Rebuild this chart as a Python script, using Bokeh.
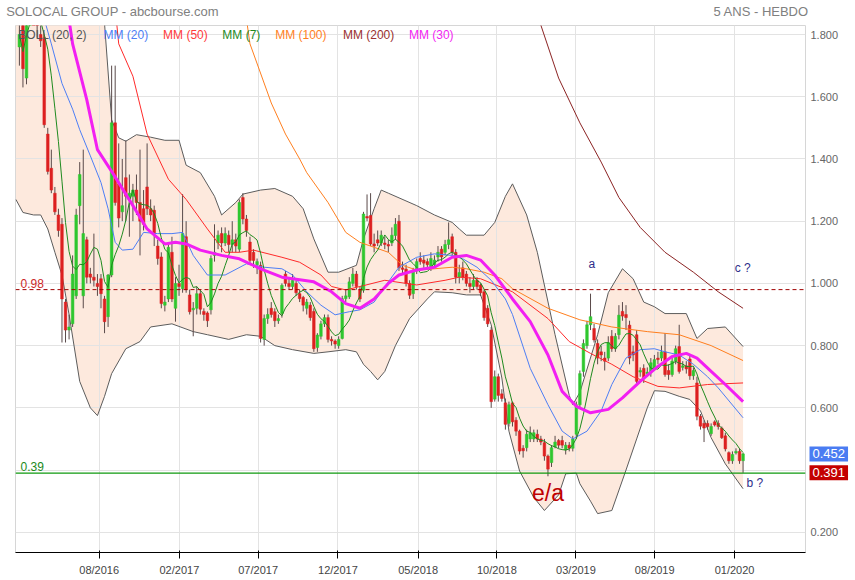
import numpy as np
import pandas as pd
from bokeh.plotting import figure
from bokeh.models import (Range1d, FixedTicker, Label, Span, NumeralTickFormatter, LinearAxis,
                          GlobalInlineStyleSheet)
from bokeh.embed import file_html
from bokeh.resources import INLINE

# ---------------- data (weekly candles, index = week number) ----------------
opens = [1.76,1.88,1.66,1.92,1.96,1.92,1.80,1.79,1.48,1.37,1.29,1.22,1.19,0.94,0.85,0.87,0.96,1.25,0.96,1.14,
         1.03,1.02,1.00,1.015,0.95,0.893,1.027,1.516,1.32,1.23,1.34,1.27,1.28,1.30,1.26,1.24,1.31,1.24,1.235,1.12,
         1.085,0.93,0.95,1.10,0.92,1.00,0.983,1.15,0.963,0.915,0.92,0.967,0.91,0.905,0.915,1.09,1.13,1.16,1.13,1.155,
         1.125,1.14,1.11,1.276,1.207,1.133,1.10,1.06,1.058,0.82,0.887,0.92,0.909,0.88,0.903,1.03,1.00,0.99,1.00,0.967,
         0.955,0.92,0.93,0.91,0.794,0.83,0.87,0.89,0.82,0.815,0.80,0.823,0.951,0.957,1.00,1.03,0.98,0.978,1.215,1.218,
         1.127,1.14,1.13,1.13,1.125,1.13,1.154,1.20,1.05,1.046,1.00,0.967,1.04,1.08,1.075,1.07,1.05,1.06,1.085,1.11,
         1.10,1.125,1.15,1.10,1.02,1.05,1.03,1.00,0.99,1.01,0.995,0.973,0.92,0.85,0.628,0.70,0.645,0.616,0.55,0.616,
         0.56,0.525,0.47,0.472,0.50,0.50,0.515,0.50,0.488,0.445,0.424,0.475,0.495,0.495,0.465,0.48,0.47,0.515,0.61,0.717,
         0.80,0.867,0.855,0.807,0.78,0.76,0.76,0.83,0.79,0.835,0.91,0.90,0.866,0.78,0.835,0.715,0.727,0.71,0.715,0.727,
         0.76,0.76,0.78,0.72,0.707,0.75,0.797,0.73,0.735,0.757,0.703,0.68,0.573,0.55,0.55,0.517,0.555,0.55,0.535,0.51,
         0.456,0.43,0.455,0.46,0.43]
highs = [1.86,1.92,1.95,2.00,2.02,1.95,1.83,1.80,1.50,1.43,1.31,1.24,1.21,0.95,0.90,1.09,1.24,1.39,1.43,1.15,
         1.05,1.16,1.03,1.03,0.96,1.03,1.70,1.70,1.45,1.40,1.46,1.35,1.32,1.35,1.43,1.30,1.45,1.27,1.25,1.14,
         1.10,0.96,1.13,1.15,1.02,1.06,1.287,1.20,0.98,0.94,0.99,0.98,0.92,0.91,1.09,1.19,1.17,1.18,1.18,1.17,
         1.20,1.16,1.27,1.29,1.22,1.15,1.11,1.08,1.07,0.90,0.92,0.94,0.92,0.90,1.00,1.04,1.02,1.03,1.01,0.98,
         0.96,0.95,0.94,0.92,0.84,0.88,0.90,0.90,0.83,0.82,0.83,0.96,0.98,1.02,1.05,1.04,0.99,1.23,1.286,1.29,
         1.16,1.17,1.17,1.15,1.14,1.18,1.21,1.22,1.07,1.06,1.01,1.05,1.08,1.10,1.09,1.08,1.10,1.09,1.12,1.12,
         1.14,1.196,1.16,1.11,1.06,1.07,1.04,1.02,1.03,1.02,1.00,0.98,0.93,0.86,0.72,0.71,0.66,0.63,0.62,0.62,
         0.57,0.53,0.48,0.53,0.54,0.53,0.53,0.51,0.50,0.45,0.48,0.51,0.50,0.51,0.49,0.49,0.51,0.62,0.72,0.82,
         0.88,0.967,0.87,0.82,0.80,0.78,0.83,0.85,0.84,0.93,0.94,0.93,0.88,0.80,0.85,0.73,0.74,0.73,0.76,0.77,
         0.78,0.80,0.84,0.74,0.76,0.80,0.867,0.75,0.75,0.77,0.73,0.70,0.58,0.56,0.56,0.55,0.56,0.56,0.54,0.52,
         0.46,0.46,0.47,0.47,0.455]
lows = [1.70,1.63,1.64,1.86,1.88,1.79,1.76,1.50,1.35,1.29,1.22,1.15,0.81,0.81,0.82,0.86,0.95,1.19,0.92,1.00,
        1.00,0.99,0.96,0.92,0.84,0.86,1.02,1.25,1.18,1.20,1.20,1.15,1.20,1.22,1.09,1.17,1.22,1.20,1.12,1.06,
        0.92,0.91,0.94,0.94,0.877,0.96,0.97,0.97,0.90,0.83,0.90,0.90,0.88,0.86,0.90,1.07,1.11,1.10,1.12,1.10,
        1.10,1.10,1.10,1.19,1.15,1.06,1.05,1.03,0.81,0.80,0.87,0.89,0.86,0.87,0.89,0.99,0.98,0.98,0.96,0.94,
        0.91,0.90,0.88,0.78,0.78,0.82,0.86,0.81,0.80,0.79,0.79,0.82,0.94,0.95,0.99,0.98,0.94,0.97,1.20,1.12,
        1.10,1.12,1.12,1.11,1.10,1.12,1.14,1.04,1.03,0.99,0.95,0.95,1.03,1.06,1.05,1.05,1.04,1.05,1.07,1.07,
        1.09,1.11,1.09,1.00,1.00,1.01,0.99,0.97,0.98,0.98,0.96,0.88,0.86,0.60,0.62,0.62,0.62,0.53,0.54,0.54,
        0.51,0.45,0.44,0.46,0.49,0.49,0.49,0.48,0.43,0.38,0.41,0.47,0.47,0.47,0.45,0.46,0.46,0.50,0.60,0.70,
        0.79,0.85,0.81,0.74,0.75,0.72,0.75,0.78,0.78,0.82,0.88,0.85,0.74,0.75,0.67,0.70,0.68,0.70,0.70,0.72,
        0.74,0.75,0.70,0.69,0.70,0.74,0.71,0.72,0.71,0.69,0.69,0.56,0.53,0.49,0.53,0.51,0.54,0.53,0.50,0.46,
        0.42,0.42,0.45,0.42,0.391]
closes = [1.80,1.69,1.90,1.96,1.92,1.84,1.78,1.51,1.36,1.30,1.23,1.17,0.95,0.85,0.86,1.03,1.22,1.35,1.16,1.02,
          1.02,1.01,0.99,0.967,0.877,1.027,1.516,1.26,1.21,1.25,1.28,1.29,1.30,1.26,1.20,1.19,1.24,1.22,1.16,1.08,
          0.935,0.94,1.116,0.95,1.00,0.99,1.16,0.98,0.909,0.92,0.967,0.917,0.90,0.88,1.08,1.10,1.155,1.13,1.16,1.125,
          1.14,1.12,1.26,1.207,1.17,1.074,1.074,1.07,0.823,0.887,0.90,0.90,0.88,0.887,0.994,1.00,0.99,1.01,0.97,0.951,
          0.93,0.94,0.89,0.79,0.834,0.87,0.89,0.82,0.815,0.805,0.82,0.951,0.96,1.005,1.03,0.99,0.95,1.223,1.21,1.127,
          1.12,1.13,1.155,1.125,1.12,1.155,1.19,1.05,1.045,1.00,0.962,1.042,1.07,1.07,1.065,1.06,1.08,1.075,1.10,1.085,
          1.125,1.14,1.10,1.02,1.035,1.02,1.00,0.99,1.01,0.99,0.97,0.89,0.87,0.62,0.70,0.64,0.63,0.547,0.61,0.555,
          0.525,0.461,0.462,0.515,0.52,0.52,0.50,0.49,0.445,0.403,0.472,0.49,0.48,0.48,0.48,0.47,0.50,0.61,0.71,0.807,
          0.867,0.893,0.818,0.76,0.77,0.75,0.81,0.79,0.83,0.898,0.895,0.89,0.76,0.77,0.685,0.72,0.695,0.715,0.745,0.755,
          0.755,0.78,0.707,0.707,0.75,0.79,0.717,0.735,0.725,0.703,0.72,0.573,0.541,0.535,0.54,0.54,0.545,0.54,0.504,0.468,
          0.43,0.45,0.46,0.43,0.452]

# indicator curves (week index, value)
boll_up_wk = [-1, 12, 22, 24, 26, 28, 30, 33, 37, 41, 45, 47, 51, 55, 57, 61, 63, 68, 72, 77, 80, 83, 87, 90, 95, 97,
              100, 102, 104, 112, 117, 122, 124, 126, 131, 134, 137, 139, 143, 146, 151, 155, 156, 158, 163, 166,
              170, 173, 176, 179, 182, 188, 191, 194, 199, 204]
boll_up = [2.40, 2.40, 2.10, 1.835, 1.526, 1.468, 1.457, 1.478, 1.47, 1.46, 1.46, 1.38, 1.356, 1.28, 1.22, 1.26,
           1.287, 1.30, 1.305, 1.28, 1.24, 1.143, 1.036, 1.036, 1.058, 1.143, 1.24, 1.30, 1.29, 1.25, 1.22, 1.196,
           1.175, 1.155, 1.155, 1.196, 1.28, 1.32, 1.22, 1.10, 0.835, 0.64, 0.61, 0.65, 0.835, 0.97, 1.047, 1.015,
           0.94, 0.925, 0.903, 0.903, 0.823, 0.855, 0.86, 0.797]
boll_lo_wk = [-1, 1, 4, 6, 8, 10, 12, 14, 17, 20, 22, 24, 26, 30, 34, 37, 43, 49, 53, 59, 64, 68, 72, 77, 83, 87, 92,
              95, 97, 99, 101, 103, 106, 110, 115, 117, 122, 126, 130, 133, 136, 138, 141, 145, 148, 152, 154, 157,
              158, 161, 163, 167, 171, 174, 177, 179, 182, 186, 189, 192, 195, 199, 204]
boll_lo = [1.27, 1.228, 1.22, 1.22, 1.175, 1.10, 1.027, 0.90, 0.685, 0.60, 0.575, 0.637, 0.71, 0.79, 0.813, 0.86,
           0.87, 0.845, 0.835, 0.82, 0.835, 0.83, 0.80, 0.787, 0.775, 0.78, 0.787, 0.78, 0.74, 0.717, 0.69, 0.717,
           0.80, 0.887, 0.95, 0.973, 0.97, 0.963, 0.963, 0.867, 0.696, 0.525, 0.397, 0.312, 0.27, 0.32, 0.388, 0.39,
           0.356, 0.30, 0.26, 0.27, 0.40, 0.50, 0.60, 0.655, 0.653, 0.637, 0.627, 0.59, 0.504, 0.42, 0.34]
mm20_wk = [7, 9, 12, 15, 17, 20, 23, 25, 27, 29, 32, 35, 39, 43, 46, 49, 53, 58, 64, 69, 74, 77, 81, 85, 89, 93, 96,
           100, 104, 107, 112, 117, 122, 125, 129, 133, 137, 139, 144, 149, 153, 156, 160, 164, 167, 171, 175, 179,
           182, 186, 190, 194, 197, 204]
mm20 = [1.85, 1.77, 1.643, 1.56, 1.494, 1.41, 1.324, 1.24, 1.132, 1.107, 1.11, 1.164, 1.16, 1.16, 1.164, 1.09, 1.027,
        1.027, 1.063, 1.052, 1.047, 1.027, 0.973, 0.93, 0.899, 0.909, 0.915, 0.94, 1.005, 1.052, 1.084, 1.095, 1.09,
        1.079, 1.052, 1.01, 0.95, 0.90, 0.727, 0.61, 0.525, 0.50, 0.525, 0.59, 0.675, 0.76, 0.787, 0.79, 0.78, 0.77,
        0.74, 0.70, 0.664, 0.568]
mm30_wk = [12, 15, 19, 22, 26, 32, 36, 41, 44, 47, 51, 57, 62, 68, 74, 77, 83, 88, 92, 96, 100, 104, 107, 112, 117,
           122, 126, 130, 134, 139, 144, 149, 153, 157, 161, 166, 170, 175, 180, 184, 188, 191, 195, 199, 204]
mm30 = [2.0, 1.77, 1.59, 1.43, 1.36, 1.25, 1.175, 1.127, 1.132, 1.127, 1.107, 1.09, 1.079, 1.047, 1.02, 1.015, 1.005,
        0.973, 0.935, 0.92, 0.95, 1.0, 1.027, 1.043, 1.052, 1.084, 1.09, 1.075, 1.027, 0.95, 0.877, 0.77, 0.653,
        0.605, 0.584, 0.595, 0.632, 0.685, 0.733, 0.765, 0.775, 0.76, 0.717, 0.675, 0.62]
mm50_wk = [26, 28, 32, 36, 42, 47, 53, 58, 62, 66, 74, 79, 85, 88, 92, 96, 103, 112, 120, 124, 130, 139, 149, 155,
           161, 167, 173, 180, 186, 194, 204]
mm50 = [2.0, 1.77, 1.666, 1.48, 1.335, 1.27, 1.175, 1.10, 1.10, 1.107, 1.084, 1.068, 1.027, 0.99, 0.979, 0.99, 1.01,
        0.995, 1.01, 1.02, 1.015, 0.973, 0.887, 0.813, 0.775, 0.74, 0.70, 0.669, 0.664, 0.675, 0.68]
mm100_wk = [62, 64, 65, 71, 75, 79, 81, 87, 92, 96, 104, 108, 112, 117, 122, 126, 131, 136, 139, 149, 158, 167, 177,
            186, 195, 204]
mm100 = [2.0, 1.85, 1.77, 1.58, 1.48, 1.40, 1.356, 1.26, 1.164, 1.132, 1.10, 1.058, 1.043, 1.047, 1.052, 1.047,
         1.036, 1.015, 0.983, 0.92, 0.883, 0.86, 0.845, 0.835, 0.80, 0.752]
mm200_wk = [145, 147, 152, 158, 164, 169, 175, 182, 190, 197, 204]
mm200 = [1.95, 1.83, 1.66, 1.516, 1.39, 1.276, 1.18, 1.10, 1.036, 0.973, 0.92]

tick_weeks = [22.5, 45.1, 67.3, 89.8, 112.4, 134.6, 156.9, 179.1, 201.6]
tick_labels = ["08/2016", "02/2017", "07/2017", "12/2017", "05/2018", "10/2018", "03/2019", "08/2019", "01/2020"]
price_ticks = [0.2, 0.4, 0.6, 0.8, 1.0, 1.2, 1.4, 1.6, 1.8]
header_texts = ["SOLOCAL GROUP - abcbourse.com", "5 ANS - HEBDO"]

level_high = 0.98
level_low = 0.39
last_price = 0.452
low_price = 0.391

# ---------------- figure ----------------
FONT = "Liberation Sans"
# the right panel also holds the two price tags, which widen it; the canvas is
# therefore wider than the window (the extra strip is blank) and page scrolling is disabled.
W, H = 919, 578
p = figure(width=W, height=H, x_range=Range1d(-1.1, 221.6), y_range=Range1d(0.135, 1.829),
           output_backend="svg", toolbar_location=None, y_axis_location="right", title_location=None,
           min_border_left=15, min_border_right=48, min_border_top=23, min_border_bottom=23)
p.stylesheets = [GlobalInlineStyleSheet(css="html, body { overflow: hidden !important; }")]
p.outline_line_color = "#d6d6d6"
p.background_fill_color = "white"
p.border_fill_color = "white"

p.xaxis.ticker = FixedTicker(ticks=tick_weeks)
p.xaxis.major_label_overrides = {t: l for t, l in zip(tick_weeks, tick_labels)}
p.yaxis.ticker = FixedTicker(ticks=price_ticks)
p.yaxis.formatter = NumeralTickFormatter(format="0.000")

# header line drawn as a top axis carrying two labels
head_pos = [26.3, 209.1]
top_axis = LinearAxis(ticker=FixedTicker(ticks=head_pos),
                      major_label_overrides={t: s for t, s in zip(head_pos, header_texts)})
p.add_layout(top_axis, "above")

for ax in (p.xaxis[0], p.yaxis[0], top_axis):
    ax.axis_line_color = None
    ax.major_tick_line_color = None
    ax.minor_tick_line_color = None
    ax.major_tick_out = 0
    ax.major_tick_in = 0
    ax.minor_tick_out = 0
    ax.minor_tick_in = 0
    ax.major_label_text_font = FONT
    ax.major_label_text_font_size = "11px"
    ax.major_label_text_color = "#666666"
top_axis.major_label_text_font_size = "13px"
top_axis.major_label_text_color = "#808080"
top_axis.major_label_standoff = 8
p.yaxis[0].major_label_standoff = 5
p.xaxis[0].major_label_standoff = 7
p.xgrid.grid_line_color = "#e3e3e3"
p.ygrid.grid_line_color = "#e3e3e3"

# Bollinger band
band_x = list(boll_up_wk) + list(boll_lo_wk)[::-1]
band_y = list(boll_up) + list(boll_lo)[::-1]
band = p.patch(band_x, band_y, fill_color="#fde9dd", line_color=None)
band.level = "image"
p.line(boll_up_wk, boll_up, line_color="#5c5c5c", line_width=1)
p.line(boll_lo_wk, boll_lo, line_color="#5c5c5c", line_width=1)

# candles
o = np.array(opens); h = np.array(highs); l = np.array(lows); c = np.array(closes)
wk = np.arange(len(c))
up = c >= o
p.segment(wk, h, wk, l, line_color="#5a4a4a", line_width=1)
p.vbar(wk[up], 0.75, o[up], c[up], fill_color="#2fc72f", line_color="#2fc72f", line_width=0.5)
p.vbar(wk[~up], 0.75, o[~up], c[~up], fill_color="#dd2020", line_color="#dd2020", line_width=0.5)

# moving averages
mm7 = pd.Series(c).rolling(7, min_periods=1).mean()
p.line(mm200_wk, mm200, line_color="#8b2323", line_width=1)
p.line(mm100_wk, mm100, line_color="#ff7f1f", line_width=1)
p.line(mm50_wk, mm50, line_color="#ff2a2a", line_width=1)
p.line(mm20_wk, mm20, line_color="#4d7ef5", line_width=1)
p.line(wk, mm7, line_color="#1f8a1f", line_width=1)
p.line(mm30_wk, mm30, line_color="#f21ff2", line_width=3)

# levels
p.add_layout(Span(location=level_high, dimension="width", line_color="#a00000", line_dash="4 3", line_width=1))
p.add_layout(Span(location=level_low, dimension="width", line_color="#0f9a0f", line_width=1.2))

def lab(x, y, text, color, size="11px", align="left", baseline="middle", place="center", **kw):
    lb = Label(x=x, y=y, text=text, text_color=color, text_font=FONT, text_font_size=size,
               text_align=align, text_baseline=baseline, **kw)
    p.add_layout(lb, place)
    return lb

lab(0.3, level_high + 0.006, "0.98", "#cc2a2a", "12px", baseline="bottom")
lab(0.3, level_low + 0.006, "0.39", "#1a8a1a", "12px", baseline="bottom")

legend_items = [(-0.3, "BOLL (20, 2)", "#555555"), (23.7, "MM (20)", "#4d7ef5"), (40.5, "MM (50)", "#ff3a3a"),
                (57.2, "MM (7)", "#1f8a1f"), (72.1, "MM (100)", "#ff7f1f"), (91.2, "MM (200)", "#9a3030"),
                (109.8, "MM (30)", "#f21ff2")]
for x, t, col in legend_items:
    lab(x, 1.80, t, col, "12px")

# annotations
lab(149, 0.326, "e/a", "#c00000", "23px", align="center")
lab(161.4, 1.061, "a", "#2e2e8a", "12px", align="center")
lab(203.9, 1.049, "c ?", "#2e2e8a", "12px", align="center")
lab(207.3, 0.358, "b ?", "#2e2e8a", "12px", align="center")

# price tags in the right panel
lab(809, last_price, "0.452", "white", "13px", place="right", x_units="canvas",
    background_fill_color="#4a7cf2", padding=3)
lab(809, low_price, "0.391", "white", "13px", place="right", x_units="canvas",
    background_fill_color="#c40000", padding=3)

open("out.html", "w").write(file_html(p, INLINE))
